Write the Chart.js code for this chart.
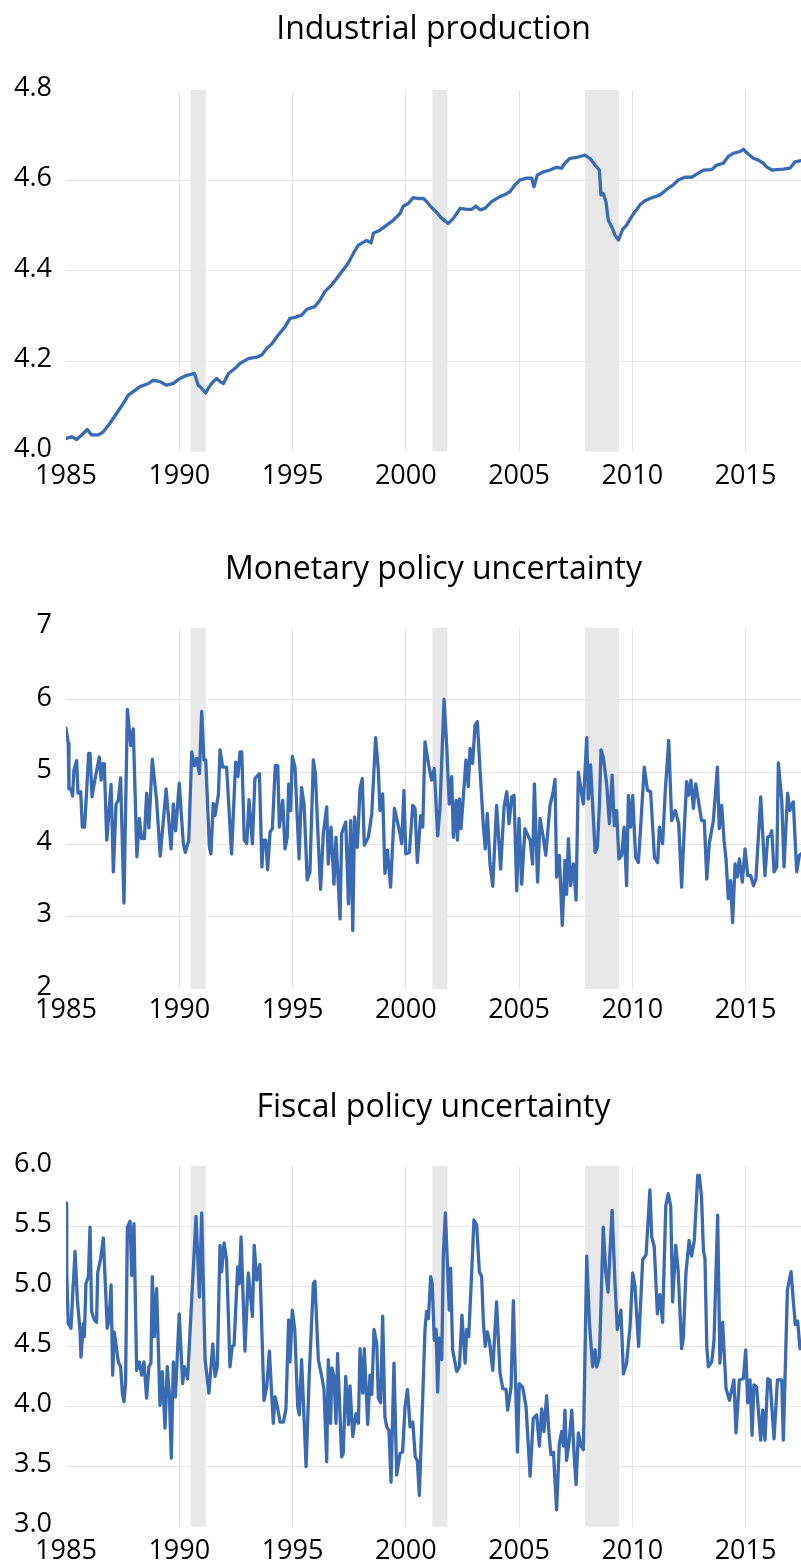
<!DOCTYPE html>
<html>
<head>
<meta charset="utf-8">
<script src="https://cdn.jsdelivr.net/npm/chart.js@4.4.1/dist/chart.umd.min.js"></script>
<style>
html,body{margin:0;padding:0;background:#fff;width:801px;height:1567px;overflow:hidden;}
.panel{position:absolute;left:0;width:801px;}
canvas{display:block;}
</style>
</head>
<body>
<div class="panel" style="top:0px;height:540px"><canvas id="c1" width="801" height="540"></canvas></div>
<div class="panel" style="top:540px;height:538px"><canvas id="c2" width="801" height="538"></canvas></div>
<div class="panel" style="top:1078px;height:489px"><canvas id="c3" width="801" height="489"></canvas></div>
<script>
// ---------- DATA ----------
const titles = ["Industrial production", "Monetary policy uncertainty", "Fiscal policy uncertainty"];
const xTicks = [1985, 1990, 1995, 2000, 2005, 2010, 2015];
const xMin = 1985, xMax = 2017.45;

const recessionStart = [1990.50, 2001.17, 2007.92];
const recessionEnd   = [1991.17, 2001.84, 2009.42];

const ipTicks = [4.0, 4.2, 4.4, 4.6, 4.8];
const ipTickLabels = ["4.0", "4.2", "4.4", "4.6", "4.8"];
const mpuTicks = [2, 3, 4, 5, 6, 7];
const mpuTickLabels = ["2", "3", "4", "5", "6", "7"];
const fpuTicks = [3.0, 3.5, 4.0, 4.5, 5.0, 5.5, 6.0];
const fpuTickLabels = ["3.0", "3.5", "4.0", "4.5", "5.0", "5.5", "6.0"];

const ipYears = [1985.00,1985.25,1985.47,1985.69,1985.94,1986.13,1986.43,1986.65,1986.94,1987.24,1987.53,1987.75,1987.97,1988.27,1988.64,1988.86,1989.15,1989.44,1989.74,1990.03,1990.33,1990.67,1990.84,1990.99,1991.17,1991.28,1991.43,1991.65,1991.80,1991.95,1992.17,1992.46,1992.68,1993.05,1993.42,1993.64,1993.86,1994.08,1994.37,1994.67,1994.89,1995.11,1995.40,1995.63,1995.99,1996.21,1996.43,1996.73,1996.95,1997.17,1997.46,1997.69,1997.91,1998.27,1998.47,1998.57,1998.86,1999.16,1999.45,1999.75,1999.89,2000.11,2000.33,2000.56,2000.78,2000.92,2001.14,2001.37,2001.59,2001.88,2002.10,2002.40,2002.69,2002.91,2003.10,2003.28,2003.50,2003.79,2004.16,2004.38,2004.60,2004.82,2005.04,2005.34,2005.56,2005.66,2005.81,2006.07,2006.37,2006.66,2006.88,2007.03,2007.25,2007.55,2007.77,2007.91,2008.13,2008.36,2008.55,2008.62,2008.72,2008.84,2008.94,2009.09,2009.24,2009.39,2009.58,2009.75,2009.97,2010.19,2010.34,2010.56,2010.78,2011.00,2011.23,2011.52,2011.81,2012.03,2012.33,2012.62,2012.92,2013.14,2013.51,2013.73,2014.02,2014.24,2014.46,2014.76,2014.90,2015.13,2015.35,2015.57,2015.79,2015.93,2016.16,2016.38,2016.67,2016.96,2017.19,2017.45];
const ipValues = [4.029,4.033,4.027,4.037,4.049,4.037,4.037,4.044,4.063,4.085,4.107,4.125,4.133,4.144,4.151,4.158,4.155,4.147,4.151,4.162,4.169,4.173,4.147,4.140,4.130,4.140,4.151,4.162,4.155,4.151,4.173,4.184,4.195,4.206,4.209,4.214,4.228,4.238,4.258,4.276,4.295,4.297,4.302,4.315,4.321,4.335,4.354,4.369,4.383,4.398,4.417,4.439,4.457,4.467,4.462,4.483,4.490,4.501,4.512,4.527,4.543,4.549,4.562,4.560,4.560,4.553,4.540,4.529,4.516,4.505,4.516,4.538,4.536,4.536,4.543,4.535,4.538,4.553,4.564,4.569,4.575,4.590,4.601,4.605,4.605,4.586,4.612,4.619,4.623,4.629,4.627,4.638,4.649,4.651,4.654,4.656,4.649,4.634,4.623,4.568,4.571,4.553,4.512,4.498,4.479,4.468,4.492,4.501,4.520,4.535,4.546,4.555,4.560,4.564,4.568,4.580,4.590,4.601,4.607,4.607,4.616,4.623,4.624,4.634,4.638,4.653,4.660,4.664,4.669,4.658,4.649,4.645,4.638,4.630,4.623,4.624,4.625,4.627,4.641,4.644];

const mpuYears = [1985.00,1985.10,1985.13,1985.22,1985.29,1985.35,1985.47,1985.53,1985.65,1985.72,1985.82,1985.91,1986.00,1986.06,1986.15,1986.25,1986.47,1986.55,1986.63,1986.69,1986.80,1986.99,1987.09,1987.21,1987.31,1987.41,1987.56,1987.71,1987.86,1987.97,1988.13,1988.24,1988.34,1988.46,1988.56,1988.66,1988.81,1989.00,1989.16,1989.42,1989.64,1989.74,1989.84,1990.00,1990.18,1990.27,1990.42,1990.55,1990.67,1990.77,1990.89,1990.99,1991.09,1991.17,1991.33,1991.40,1991.50,1991.58,1991.73,1991.80,1991.92,1992.09,1992.31,1992.49,1992.59,1992.68,1992.76,1992.87,1992.98,1993.08,1993.23,1993.34,1993.54,1993.65,1993.71,1993.82,1993.90,1994.01,1994.11,1994.24,1994.35,1994.42,1994.57,1994.67,1994.77,1994.83,1994.92,1994.99,1995.11,1995.29,1995.40,1995.51,1995.65,1995.77,1995.92,1996.01,1996.14,1996.24,1996.36,1996.51,1996.58,1996.70,1996.83,1996.92,1997.10,1997.17,1997.35,1997.47,1997.57,1997.66,1997.74,1997.86,1997.98,1998.08,1998.17,1998.35,1998.50,1998.67,1998.79,1998.86,1998.98,1999.08,1999.19,1999.33,1999.50,1999.75,1999.82,1999.92,2000.00,2000.16,2000.31,2000.41,2000.51,2000.66,2000.75,2000.85,2001.00,2001.14,2001.26,2001.41,2001.51,2001.69,2001.81,2001.92,2002.03,2002.10,2002.22,2002.28,2002.37,2002.44,2002.59,2002.66,2002.76,2002.84,2002.95,2003.06,2003.16,2003.28,2003.43,2003.51,2003.60,2003.72,2003.84,2004.01,2004.19,2004.34,2004.46,2004.56,2004.68,2004.78,2004.90,2005.00,2005.12,2005.26,2005.49,2005.60,2005.68,2005.82,2005.93,2006.07,2006.18,2006.37,2006.49,2006.59,2006.66,2006.78,2006.91,2007.03,2007.10,2007.18,2007.28,2007.40,2007.52,2007.62,2007.77,2007.84,2007.99,2008.06,2008.16,2008.25,2008.36,2008.46,2008.55,2008.62,2008.72,2008.87,2008.99,2009.11,2009.21,2009.31,2009.41,2009.53,2009.64,2009.75,2009.83,2009.93,2010.02,2010.15,2010.27,2010.37,2010.53,2010.67,2010.81,2010.98,2011.12,2011.20,2011.34,2011.46,2011.61,2011.74,2011.90,2012.05,2012.18,2012.28,2012.40,2012.49,2012.59,2012.70,2012.80,2012.92,2013.06,2013.18,2013.29,2013.40,2013.58,2013.76,2013.84,2013.95,2014.05,2014.14,2014.24,2014.34,2014.43,2014.54,2014.64,2014.73,2014.86,2014.98,2015.10,2015.23,2015.35,2015.46,2015.67,2015.86,2015.98,2016.08,2016.16,2016.26,2016.38,2016.45,2016.60,2016.70,2016.86,2016.96,2017.11,2017.26,2017.38,2017.45];
const mpuValues = [5.61,5.40,4.77,4.77,4.67,5.03,5.16,4.71,4.73,4.24,4.24,4.73,5.26,5.26,4.66,4.85,5.21,4.89,5.12,5.12,4.06,4.83,3.62,4.56,4.61,4.92,3.19,5.87,5.37,5.60,3.83,4.36,4.08,4.08,4.71,4.23,5.18,4.61,3.84,4.77,3.94,4.56,4.19,4.85,4.01,3.89,4.06,5.28,5.09,5.19,4.98,5.84,5.17,5.17,3.96,3.87,4.57,4.40,4.70,5.31,5.07,5.07,3.87,5.14,4.94,5.28,5.28,4.06,4.01,4.62,4.01,4.91,4.98,3.69,4.06,4.06,3.65,4.17,4.22,5.09,5.09,4.24,4.61,3.94,4.10,4.84,4.47,5.22,5.07,3.80,4.79,4.56,3.51,3.62,5.17,4.98,4.03,3.38,4.15,4.52,3.73,4.24,3.45,4.10,2.97,4.15,4.31,3.18,4.33,2.81,4.38,3.96,4.77,4.91,3.99,4.10,4.43,5.48,5.03,4.47,4.70,3.60,3.92,3.41,4.50,4.15,4.01,4.75,3.87,3.89,4.54,4.50,3.75,4.40,4.24,5.42,5.12,4.89,5.05,4.12,4.50,6.01,5.35,4.56,4.94,4.10,4.61,4.06,4.63,4.22,4.87,5.17,4.80,5.33,5.12,5.65,5.70,5.03,4.24,3.94,4.43,3.73,3.42,4.54,3.66,4.52,4.73,4.29,4.66,4.68,3.36,4.36,3.45,4.22,4.06,3.73,4.84,3.48,4.36,4.10,3.85,4.54,4.70,4.90,3.55,3.85,2.88,3.78,3.31,4.08,3.43,3.73,3.23,5.00,4.70,4.56,5.48,4.63,5.10,4.56,3.89,3.96,4.54,5.31,5.21,4.84,4.29,4.96,4.26,4.47,3.80,3.85,4.24,3.43,4.68,4.24,4.68,3.82,3.75,4.24,5.07,4.75,4.73,3.82,3.75,4.24,4.01,4.75,5.44,4.33,4.47,4.29,3.41,4.10,4.87,4.68,4.89,4.50,4.84,4.61,4.33,4.33,3.52,4.01,4.33,5.07,4.22,4.54,4.06,3.80,3.25,3.50,2.92,3.73,3.55,3.80,3.48,3.94,3.57,3.57,3.43,3.52,4.66,3.57,4.10,4.12,4.19,3.62,3.69,5.13,4.61,3.69,4.71,4.47,4.59,3.62,3.85,3.87];

const fpuYears = [1985.00,1985.03,1985.10,1985.22,1985.29,1985.40,1985.50,1985.62,1985.66,1985.77,1985.81,1985.88,1985.99,1986.06,1986.13,1986.25,1986.35,1986.40,1986.53,1986.65,1986.82,1986.90,1986.99,1987.06,1987.13,1987.31,1987.41,1987.49,1987.56,1987.63,1987.71,1987.83,1987.90,1988.00,1988.12,1988.24,1988.34,1988.44,1988.56,1988.66,1988.75,1988.81,1988.90,1989.00,1989.15,1989.25,1989.37,1989.47,1989.56,1989.65,1989.74,1989.83,1990.00,1990.15,1990.22,1990.37,1990.74,1990.89,1990.99,1991.14,1991.31,1991.48,1991.58,1991.68,1991.80,1991.87,1991.98,1992.09,1992.24,1992.34,1992.42,1992.58,1992.65,1992.73,1992.90,1993.05,1993.23,1993.31,1993.42,1993.56,1993.74,1993.86,1993.98,1994.15,1994.23,1994.33,1994.45,1994.60,1994.71,1994.83,1994.89,1994.99,1995.10,1995.23,1995.30,1995.40,1995.60,1995.74,1995.92,1995.99,1996.14,1996.32,1996.39,1996.51,1996.58,1996.68,1996.74,1996.83,1996.92,1996.99,1997.17,1997.24,1997.35,1997.47,1997.54,1997.66,1997.80,1997.91,1997.98,1998.10,1998.17,1998.32,1998.42,1998.50,1998.60,1998.72,1998.79,1998.89,1998.98,1999.08,1999.16,1999.26,1999.35,1999.48,1999.60,1999.75,1999.86,1999.97,2000.08,2000.19,2000.31,2000.42,2000.51,2000.60,2000.75,2000.85,2000.92,2001.00,2001.10,2001.17,2001.26,2001.34,2001.41,2001.48,2001.59,2001.66,2001.75,2001.85,2001.92,2001.98,2002.07,2002.25,2002.37,2002.48,2002.62,2002.69,2002.78,2002.91,2003.01,2003.13,2003.25,2003.35,2003.43,2003.51,2003.60,2003.69,2003.84,2004.01,2004.16,2004.28,2004.43,2004.50,2004.65,2004.75,2004.93,2005.01,2005.16,2005.31,2005.49,2005.63,2005.78,2005.90,2006.00,2006.10,2006.22,2006.32,2006.41,2006.52,2006.66,2006.78,2006.88,2006.96,2007.03,2007.10,2007.22,2007.33,2007.43,2007.52,2007.62,2007.74,2007.84,2007.99,2008.11,2008.25,2008.36,2008.43,2008.55,2008.72,2008.83,2008.93,2009.11,2009.24,2009.34,2009.43,2009.50,2009.61,2009.75,2009.90,2010.02,2010.12,2010.28,2010.46,2010.61,2010.78,2010.86,2010.97,2011.11,2011.22,2011.34,2011.48,2011.59,2011.70,2011.78,2011.92,2012.03,2012.18,2012.26,2012.37,2012.51,2012.62,2012.74,2012.89,2012.96,2013.06,2013.14,2013.21,2013.29,2013.36,2013.51,2013.61,2013.77,2013.87,2013.99,2014.14,2014.29,2014.39,2014.49,2014.58,2014.73,2014.90,2015.01,2015.10,2015.20,2015.29,2015.37,2015.49,2015.67,2015.76,2015.86,2015.98,2016.08,2016.26,2016.41,2016.60,2016.67,2016.85,2017.01,2017.11,2017.20,2017.30,2017.41,2017.48];
const fpuValues = [5.69,5.11,4.69,4.65,4.91,5.29,4.89,4.63,4.41,4.69,4.58,5.02,5.08,5.49,4.79,4.72,4.70,5.11,5.23,5.40,4.65,4.72,5.01,4.26,4.62,4.37,4.33,4.11,4.04,4.19,5.49,5.54,5.09,5.52,4.30,4.37,4.26,4.37,4.07,4.33,4.36,5.08,4.58,4.98,4.01,4.29,3.82,4.33,4.11,3.57,4.37,4.08,4.77,4.19,4.33,4.23,5.58,4.91,5.61,4.39,4.11,4.52,4.25,4.33,5.34,5.12,5.36,5.22,4.33,4.50,4.51,5.16,5.02,5.41,4.46,5.11,4.75,5.34,5.05,5.18,4.05,4.16,4.46,3.86,4.08,4.00,3.87,3.87,3.98,4.72,4.37,4.80,4.64,4.00,3.93,4.39,3.50,4.27,5.02,5.04,4.39,4.22,4.14,3.54,4.39,3.86,4.32,4.25,3.86,4.44,3.58,3.61,4.25,3.85,4.17,3.75,3.94,3.86,4.48,4.11,4.48,3.85,4.26,4.10,4.64,4.52,4.07,4.03,4.75,3.91,3.83,3.80,3.37,4.36,3.43,3.61,3.62,4.00,4.14,3.83,3.87,3.58,3.55,3.26,4.08,4.64,4.79,4.73,5.08,5.02,4.55,4.64,4.12,4.57,4.39,5.27,5.61,5.13,4.80,5.15,4.47,4.29,4.33,4.76,4.36,4.64,4.58,5.11,5.55,5.51,5.12,5.08,4.69,4.50,4.62,4.55,4.30,4.87,4.28,4.15,4.14,3.97,4.16,4.88,3.62,4.19,4.16,4.00,3.42,3.90,3.93,3.67,3.98,3.79,4.09,3.78,3.60,3.62,3.14,3.69,3.79,3.67,3.97,3.55,3.72,3.97,3.61,3.35,3.78,3.67,3.64,5.25,4.69,4.33,4.47,4.33,4.41,5.49,5.12,4.95,5.63,5.02,4.64,4.72,4.80,4.27,4.36,4.66,5.11,5.00,4.50,5.22,5.26,5.80,5.41,5.33,4.77,4.93,4.70,5.67,5.77,5.66,4.87,5.34,5.12,4.48,4.58,5.11,5.38,5.25,5.38,5.92,5.92,5.74,5.30,5.23,4.50,4.33,4.37,4.55,5.59,4.36,4.70,4.15,4.05,4.14,4.22,3.78,4.22,4.23,4.47,4.03,4.22,3.76,4.18,4.16,3.72,3.97,3.72,4.23,4.22,3.73,4.22,4.22,3.72,4.97,5.12,4.88,4.68,4.71,4.48,4.48];

// ---------- STYLE ----------
const FONT = "'Open Sans', 'Noto Sans', sans-serif";
const LINE = "rgb(58,106,180)";
const GRID = "#e6e6e6";
const BAND = "#e8e8e8";

const recessionPlugin = {
  id: 'recessions',
  beforeDatasetsDraw(chart) {
    const {ctx, chartArea, scales} = chart;
    ctx.save();
    ctx.fillStyle = BAND;
    for (let i = 0; i < recessionStart.length; i++) {
      const x0 = scales.x.getPixelForValue(recessionStart[i]);
      const x1 = scales.x.getPixelForValue(recessionEnd[i]);
      ctx.fillRect(x0, chartArea.top, x1 - x0, chartArea.bottom - chartArea.top);
    }
    ctx.restore();
  }
};

function makeChart(id, title, xs, ys, yTicks, yLabels, plotTop, plotBottom, canvasH, xPad) {
  const titleSize = 32, titleLH = 1.2;
  const titleTop = 11;
  const yMin = yTicks[0], yMax = yTicks[yTicks.length - 1];
  return new Chart(document.getElementById(id), {
    type: 'line',
    data: {
      datasets: [{
        data: xs.map((x, i) => ({x: x, y: ys[i]})),
        borderColor: LINE,
        borderWidth: 3.3,
        pointRadius: 0,
        tension: 0,
        fill: false,
        borderJoinStyle: 'round',
        borderCapStyle: 'round'
      }]
    },
    options: {
      responsive: false,
      animation: false,
      devicePixelRatio: 1,
      layout: {padding: 0},
      plugins: {
        legend: {display: false},
        tooltip: {enabled: false},
        title: {
          display: true,
          fullSize: false,
          text: title,
          color: '#000',
          font: {family: FONT, size: titleSize, weight: 'normal', lineHeight: titleLH},
          padding: {top: titleTop, bottom: plotTop - titleTop - titleSize * titleLH}
        }
      },
      scales: {
        x: {
          type: 'linear',
          min: xMin,
          max: xMax,
          afterBuildTicks: s => { s.ticks = xTicks.map(v => ({value: v})); },
          afterFit: s => { s.height = canvasH - plotBottom; },
          ticks: {
            autoSkip: false, maxRotation: 0, minRotation: 0,
            padding: xPad,
            color: '#000',
            font: {family: FONT, size: 27},
            callback: v => String(v)
          },
          grid: {
            drawTicks: false,
            lineWidth: 1,
            color: c => (c.tick && c.tick.value === xMin) ? 'rgba(0,0,0,0)' : GRID
          },
          border: {display: false}
        },
        y: {
          min: yMin,
          max: yMax,
          afterBuildTicks: s => { s.ticks = yTicks.map(v => ({value: v})); },
          afterFit: s => { s.width = 66; },
          ticks: {
            padding: 14,
            labelOffset: -2,
            color: '#000',
            font: {family: FONT, size: 27},
            callback: (v, i) => yLabels[i]
          },
          grid: {
            drawTicks: false,
            lineWidth: 1,
            color: c => (c.tick && (c.tick.value === yMin || c.tick.value === yMax)) ? 'rgba(0,0,0,0)' : GRID
          },
          border: {display: false}
        }
      }
    },
    plugins: [recessionPlugin]
  });
}

makeChart('c1', titles[0], ipYears, ipValues, ipTicks, ipTickLabels, 90, 451.7, 540, 8);
makeChart('c2', titles[1], mpuYears, mpuValues, mpuTicks, mpuTickLabels, 87.7, 449, 538, 5.5);
makeChart('c3', titles[2], fpuYears, fpuValues, fpuTicks, fpuTickLabels, 87.9, 448.7, 489, 8);
</script>
</body>
</html>
